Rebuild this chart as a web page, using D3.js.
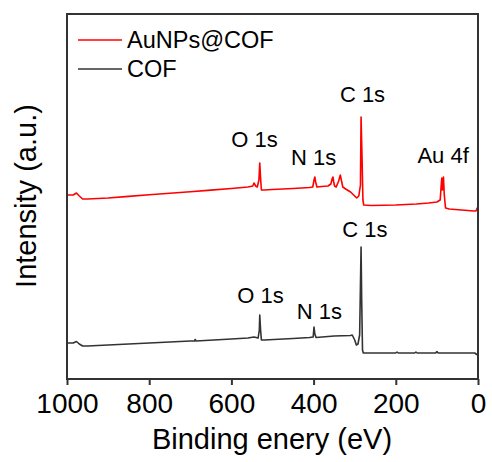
<!DOCTYPE html>
<html>
<head>
<meta charset="utf-8">
<script src="https://cdn.jsdelivr.net/npm/d3@7"></script>
<style>
  body { margin: 0; background: #fff; }
  text { font-family: "Liberation Sans", Arial, sans-serif; fill: #000; }
</style>
</head>
<body>
<svg id="chart" width="492" height="462"></svg>
<script>
// XPS survey data, binding energy (eV) and intensity (a.u.)
const energyAu = [1000, 985, 977, 970, 962, 950, 900, 850, 800, 750, 700, 650, 600, 560, 548, 545, 541, 537, 533, 531, 529, 527, 520, 500, 450, 410, 402, 399, 397, 395, 392, 380, 365, 358, 355, 353, 351, 349, 345, 339, 335, 332, 329, 322, 310, 300, 295, 290, 286, 284.5, 282, 280, 278, 260, 200, 150, 120, 100, 92, 89, 88, 86.5, 85, 84, 82, 79, 70, 40, 10, 5, 2, 0];
const intensityAu = [184, 184, 186, 183, 180, 180, 181, 182.6, 184.2, 185.7, 187.3, 188.9, 190.5, 192, 193, 196, 193, 192, 199, 216, 201, 189, 189, 189.5, 190.5, 191.5, 192, 199, 202, 197, 192, 192.5, 193, 195, 200, 202, 197, 193, 192, 198, 204, 198, 192, 190, 187, 183, 181, 183, 194, 262, 219, 179, 174, 173.5, 174, 175, 176, 177, 179, 197, 201, 189, 195, 202, 184, 171, 170, 169, 168, 168, 171, 169];

const energyCOF = [1000, 985, 977, 970, 962, 950, 900, 800, 700, 690, 688, 686, 600, 560, 545, 535, 532, 531, 529, 527, 520, 450, 410, 401, 399, 397, 394, 350, 310, 306, 300, 296, 292, 288, 284.5, 283, 281, 279, 200, 197, 194, 154, 151, 148, 103, 100, 97, 20, 8, 3, 0];
const intensityCOF = [36, 36, 37.5, 35, 33, 33, 34, 36, 38, 38, 39.5, 38, 40, 41, 42, 41, 49, 64, 49, 39, 39, 40.5, 41.5, 42, 52, 45, 41.5, 43, 43.5, 44, 39, 34, 35, 44, 132, 79, 29, 26, 26, 27, 26, 26, 27, 26, 26, 27.5, 26, 26, 26, 24.5, 23.5];

const seriesNames = ["AuNPs@COF", "COF"];
const seriesColors = ["#ff0000", "#333333"];

const xTicks = [1000, 800, 600, 400, 200, 0];

// peak labels: [text, energy, intensity at label baseline]
const labelsAu = [["O 1s", 544, 232], ["N 1s", 400, 214], ["C 1s", 281, 277], ["Au 4f", 85, 216]];
const labelsCOF = [["O 1s", 529, 76], ["N 1s", 386, 60], ["C 1s", 275, 142]];

const margin = { top: 14, right: 14, bottom: 83, left: 67 };
const width = 492 - margin.left - margin.right;
const height = 462 - margin.top - margin.bottom;

const svg = d3.select('#chart');
const g = svg.append('g').attr('transform', `translate(${margin.left},${margin.top})`);

const x = d3.scaleLinear().domain([1000, 0]).range([0, width]);
const y = d3.scaleLinear().domain([0, 365]).range([height, 0]);

const line = d3.line().x(d => x(d[0])).y(d => y(d[1]));

const series = [
  { name: seriesNames[0], color: seriesColors[0], pts: d3.zip(energyAu, intensityAu), labels: labelsAu },
  { name: seriesNames[1], color: seriesColors[1], pts: d3.zip(energyCOF, intensityCOF), labels: labelsCOF }
];

series.forEach(s => {
  g.append('path')
    .datum(s.pts)
    .attr('fill', 'none')
    .attr('stroke', s.color)
    .attr('stroke-width', 1.6)
    .attr('stroke-linejoin', 'round')
    .attr('d', line);

  g.selectAll(null)
    .data(s.labels)
    .enter()
    .append('text')
    .attr('x', d => x(d[1]))
    .attr('y', d => y(d[2]))
    .attr('text-anchor', 'middle')
    .style('font-size', '22px')
    .text(d => d[0]);
});

// bottom axis
const xAxis = g.append('g')
  .attr('transform', `translate(0,${height})`)
  .call(d3.axisBottom(x).tickValues(xTicks).tickSize(6).tickPadding(8).tickFormat(d3.format('d')));
xAxis.select('.domain').remove();
xAxis.selectAll('line').attr('stroke', '#333').attr('stroke-width', 2);
xAxis.selectAll('text').style('font-size', '28px').attr('fill', '#000');

// frame
g.append('rect')
  .attr('width', width)
  .attr('height', height)
  .attr('fill', 'none')
  .attr('stroke', '#333')
  .attr('stroke-width', 2);

// axis titles
svg.append('text')
  .attr('x', 272)
  .attr('y', 449)
  .attr('text-anchor', 'middle')
  .style('font-size', '29px')
  .text('Binding enery (eV)');

svg.append('text')
  .attr('transform', `translate(36,196) rotate(-90)`)
  .attr('text-anchor', 'middle')
  .style('font-size', '29px')
  .text('Intensity (a.u.)');

// legend
const legend = g.append('g').attr('transform', 'translate(11,26)');
series.forEach((s, i) => {
  const row = legend.append('g').attr('transform', `translate(0,${i * 29})`);
  row.append('line')
    .attr('x1', 0).attr('x2', 44)
    .attr('stroke', s.color).attr('stroke-width', 1.6);
  row.append('text')
    .attr('x', 49).attr('y', 8)
    .style('font-size', '23.5px')
    .text(s.name);
});
</script>
</body>
</html>
